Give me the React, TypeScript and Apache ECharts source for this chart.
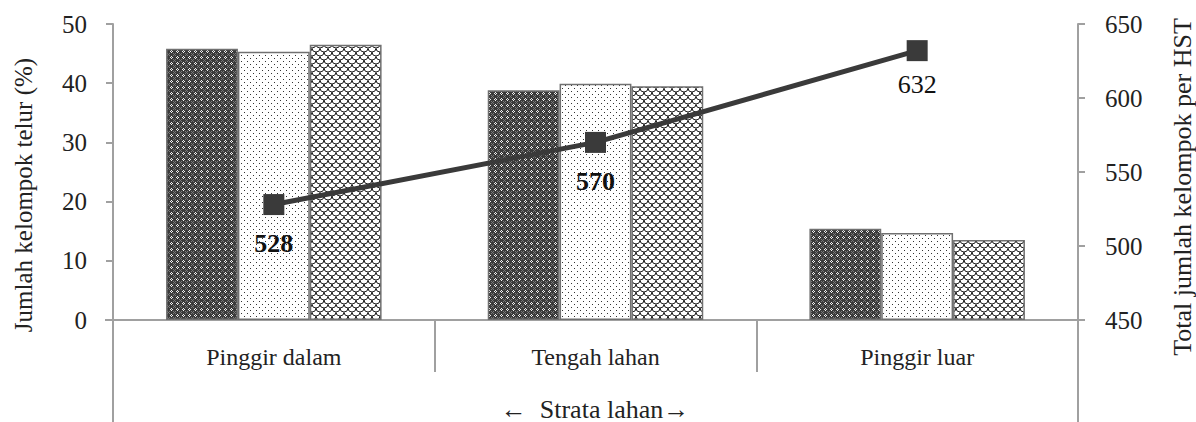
import React, { useEffect, useRef } from "react";
import * as echarts from "echarts";

const categories = ["Pinggir dalam", "Tengah lahan", "Pinggir luar"];
const seriesA = [45.8, 38.8, 15.4];
const seriesB = [45.3, 39.9, 14.7];
const seriesC = [46.5, 39.5, 13.5];
const totals = [528, 570, 632];
const totalBold = [true, true, false];
const leftTicks = [0, 50, 10];
const rightTicks = [450, 650, 50];

const FONT = "Liberation Serif";

function makePattern(kind: string) {
  const c = document.createElement("canvas");
  const s = kind === "scale" ? 8 : 6;
  c.width = s;
  c.height = s;
  const ctx = c.getContext("2d")!;
  if (kind === "dark") {
    ctx.fillStyle = "#3a3a3a";
    ctx.fillRect(0, 0, s, s);
    ctx.fillStyle = "#f0f0f0";
    [[3, 2], [2, 3], [4, 3], [3, 4]].forEach(([x, y]) => ctx.fillRect(x, y, 1, 1));
    ctx.fillStyle = "#7a7a7a";
    [[0, 0], [1, 1], [5, 5], [5, 1], [1, 5]].forEach(([x, y]) => ctx.fillRect(x, y, 1, 1));
  } else if (kind === "dot") {
    ctx.fillStyle = "#ffffff";
    ctx.fillRect(0, 0, s, s);
    ctx.fillStyle = "#333333";
    ctx.fillRect(1, 1, 1, 1);
    ctx.fillRect(4, 4, 1, 1);
  } else {
    ctx.fillStyle = "#ffffff";
    ctx.fillRect(0, 0, s, s);
    ctx.strokeStyle = "#222222";
    ctx.lineWidth = 1;
    ctx.beginPath();
    ctx.arc(4, 0, 4, 0, Math.PI);
    ctx.stroke();
    ctx.beginPath();
    ctx.arc(0, 4, 4, 0, Math.PI);
    ctx.stroke();
    ctx.beginPath();
    ctx.arc(8, 4, 4, 0, Math.PI);
    ctx.stroke();
  }
  return { image: c, repeat: "repeat", imageWidth: s, imageHeight: s } as any;
}

export default function App() {
  const ref = useRef<HTMLDivElement>(null);
  useEffect(() => {
    const chart = echarts.init(ref.current!, null, { renderer: "svg" });
    const barStyle = (kind: string) => ({
      color: makePattern(kind),
      borderColor: "#707070",
      borderWidth: 1.5,
    });
    const gridLeft = 113;
    const gridRight = 1078;
    const gridTop = 24;
    const gridBottom = 320;
    const labelDist = [15, 16, 10];
    chart.setOption({
      animation: false,
      textStyle: { fontFamily: FONT },
      grid: { left: gridLeft, right: 1196 - gridRight, top: gridTop, bottom: 422 - gridBottom },
      xAxis: {
        type: "category",
        data: categories,
        axisLine: { show: true, lineStyle: { color: "#a0a0a0", width: 2 } },
        axisTick: { show: true, length: 52, lineStyle: { color: "#a0a0a0", width: 2 } },
        axisLabel: { fontFamily: FONT, fontSize: 24, color: "#222", margin: 25 },
      },
      yAxis: [
        {
          type: "value",
          min: leftTicks[0],
          max: leftTicks[1],
          interval: leftTicks[2],
          splitLine: { show: false },
          axisLine: { show: true, lineStyle: { color: "#a0a0a0", width: 2 } },
          axisTick: { show: true, length: 7, lineStyle: { color: "#a0a0a0", width: 2 } },
          axisLabel: { fontFamily: FONT, fontSize: 25, color: "#222", margin: 26 },
        },
        {
          type: "value",
          min: rightTicks[0],
          max: rightTicks[1],
          interval: rightTicks[2],
          position: "right",
          splitLine: { show: false },
          axisLine: { show: true, lineStyle: { color: "#a0a0a0", width: 2 } },
          axisTick: { show: true, length: 7, lineStyle: { color: "#a0a0a0", width: 2 } },
          axisLabel: { fontFamily: FONT, fontSize: 25, color: "#222", margin: 27 },
        },
      ],
      series: [
        { type: "bar", data: seriesA, barGap: "0%", barCategoryGap: "33%", itemStyle: barStyle("dark") },
        { type: "bar", data: seriesB, barGap: "0%", barCategoryGap: "33%", itemStyle: barStyle("dot") },
        { type: "bar", data: seriesC, barGap: "0%", barCategoryGap: "33%", itemStyle: barStyle("scale") },
        {
          type: "line",
          yAxisIndex: 1,
          data: totals.map((v, i) => ({
            value: v,
            label: { fontWeight: totalBold[i] ? "bold" : "normal", distance: labelDist[i] },
          })),
          symbol: "rect",
          symbolSize: 21,
          itemStyle: { color: "#3a3a3a" },
          lineStyle: { color: "#3a3a3a", width: 5 },
          z: 10,
          label: {
            show: true,
            position: "bottom",
            fontFamily: FONT,
            fontSize: 26,
            color: "#111",
          },
        },
      ],
      graphic: [
        {
          type: "line",
          shape: { x1: gridLeft, y1: gridBottom, x2: gridLeft, y2: 422 },
          style: { stroke: "#a0a0a0", lineWidth: 2 },
        },
        {
          type: "line",
          shape: { x1: gridRight, y1: gridBottom, x2: gridRight, y2: 422 },
          style: { stroke: "#a0a0a0", lineWidth: 2 },
        },
        {
          type: "line",
          shape: { x1: gridLeft - 8, y1: gridBottom, x2: gridLeft, y2: gridBottom },
          style: { stroke: "#a0a0a0", lineWidth: 2 },
        },
        {
          type: "text",
          x: 23,
          y: 195,
          rotation: Math.PI / 2,
          style: {
            text: "Jumlah kelompok telur (%)",
            fontFamily: FONT,
            fontSize: 25,
            fill: "#222",
            align: "center",
            verticalAlign: "middle",
          },
        },
        {
          type: "text",
          x: 1182,
          y: 187,
          rotation: Math.PI / 2,
          style: {
            text: "Total jumlah kelompok per HST",
            fontFamily: FONT,
            fontSize: 26,
            fill: "#222",
            align: "center",
            verticalAlign: "middle",
          },
        },
        {
          type: "text",
          x: 595,
          y: 409,
          style: {
            text: "←  Strata lahan→",
            fontFamily: FONT,
            fontSize: 26,
            fill: "#222",
            align: "center",
            verticalAlign: "middle",
          },
        },
      ],
    });
    return () => chart.dispose();
  }, []);
  return <div ref={ref} style={{ width: 1196, height: 422, position: "absolute", left: 0, top: 0 }} />;
}
